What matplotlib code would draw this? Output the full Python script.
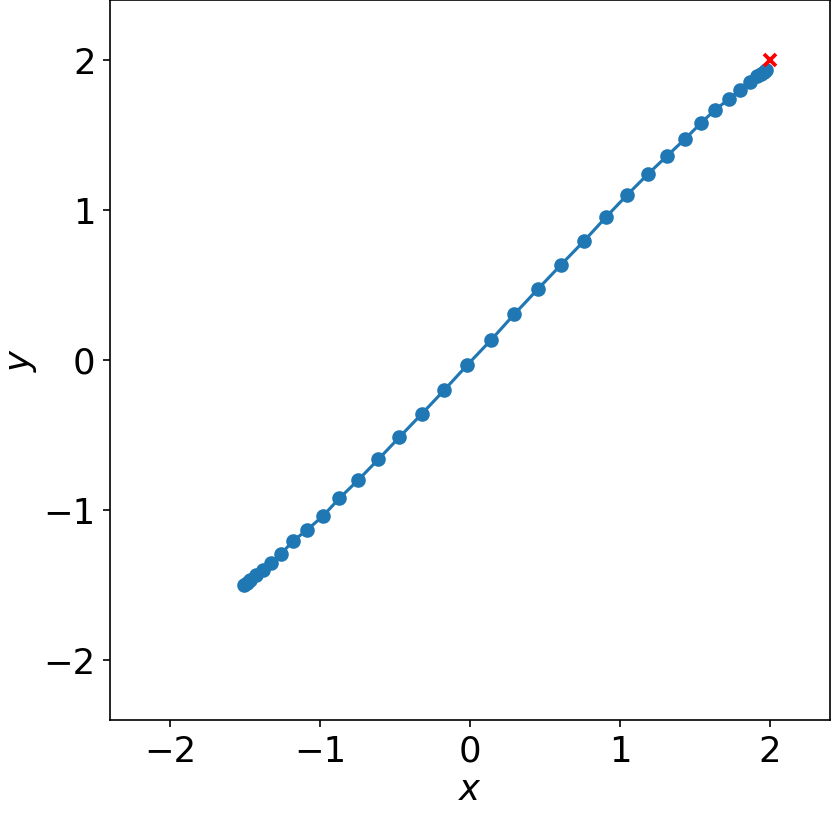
import matplotlib
matplotlib.use("Agg")
import matplotlib.pyplot as plt

# path of iterates
xs = [-1.507, -1.49, -1.467, -1.427, -1.38, -1.327, -1.26, -1.18, -1.087, -0.98,
      -0.871, -0.745, -0.611, -0.471, -0.322, -0.171, -0.018, 0.14, 0.295, 0.451,
      0.607, 0.76, 0.907, 1.047, 1.187, 1.313, 1.433, 1.54, 1.633, 1.727,
      1.8, 1.867, 1.913, 1.94, 1.958, 1.973]
ys = [-1.5, -1.485, -1.467, -1.433, -1.4, -1.353, -1.293, -1.207, -1.133, -1.04,
      -0.922, -0.8, -0.662, -0.515, -0.36, -0.2, -0.033, 0.133, 0.305, 0.471,
      0.635, 0.793, 0.953, 1.1, 1.24, 1.36, 1.473, 1.58, 1.667, 1.74,
      1.8, 1.853, 1.893, 1.91, 1.922, 1.933]
target_x, target_y = 2, 2

fig = plt.figure(figsize=(831 / 150, 813 / 150), dpi=150)
ax = fig.add_axes([110 / 831, 93 / 813, 720 / 831, 720 / 813])

ax.plot(xs, ys, 'o-', color='#1f77b4', markersize=6, linewidth=1.5)
ax.plot(target_x, target_y, 'x', color='red', markersize=6, mew=1.8)

ax.set_xlim(-2.4, 2.4)
ax.set_ylim(-2.4, 2.4)
ax.set_xticks([-2, -1, 0, 1, 2])
ax.set_yticks([-2, -1, 0, 1, 2])
ax.tick_params(labelsize=17)
ax.set_xlabel('$x$', fontsize=17, labelpad=2)
ax.set_ylabel('$y$', fontsize=17, labelpad=2)

fig.savefig('out.png', dpi=150)
